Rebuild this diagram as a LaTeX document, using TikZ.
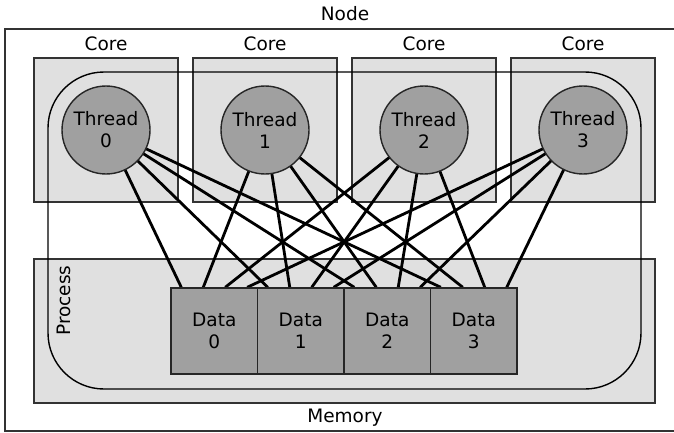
\documentclass[tikz,border=0pt]{standalone}
\usepackage{fontspec}
\setmainfont{DejaVu Sans}
\usetikzlibrary{calc}
\pgfdeclarelayer{boxes}
\pgfdeclarelayer{links}
\pgfsetlayers{boxes,links,main}
\definecolor{boxfill}{HTML}{E0E0E0}
\definecolor{unitfill}{HTML}{A0A0A0}
\definecolor{framegray}{HTML}{333333}
\begin{document}
\begin{tikzpicture}[x=1pt, y=-1pt,
  font=\fontsize{18.5}{22}\selectfont,
  frame/.style={draw=framegray, line width=1.4pt},
  corebox/.style={frame, fill=boxfill, minimum width=144pt, minimum height=144pt, inner sep=0pt},
  membox/.style={frame, fill=boxfill, minimum width=621pt, minimum height=144pt, inner sep=0pt},
  procbox/.style={draw=black, line width=1.4pt, rounded corners=56pt, minimum width=593pt, minimum height=317pt, inner sep=0pt},
  thread/.style={circle, draw=black!85, line width=1.4pt, fill=unitfill, minimum size=88pt, inner sep=0pt, align=center},
  datum/.style={draw=black!85, line width=1.4pt, fill=unitfill, minimum width=86.5pt, minimum height=86pt, inner sep=0pt, align=center},
  link/.style={line width=2.8pt, black},
  caption/.style={anchor=base, inner sep=0pt}]
\useasboundingbox (0,0) rectangle (674,433);

% containers: node frame, cores, memory and the process outline
\begin{pgfonlayer}{boxes}
  \draw[frame] (674,29) -- (5,29) -- (5,431) -- (674,431);
  \foreach \i in {0,...,3}
    \node[corebox] (core\i) at ({106+159*\i},130) {};
  \node[membox] (memory) at (344.5,331) {};
  \node[procbox] (process) at (344.5,230.5) {};
\end{pgfonlayer}

% threads and data blocks
\foreach \i in {0,...,3}
  \node[thread] (t\i) at ({106+159*\i},130) {Thread\\\i};
\foreach \j in {0,...,3}
  \node[datum] (d\j) at ({214.25+86.5*\j},331) {Data\\\j};

% every thread reaches every data block
\begin{pgfonlayer}{links}
  \foreach \j in {0,...,3}
    \foreach \i in {0,...,3} {
      \coordinate (d\j-\i) at ($(d\j.north west)!{(\i+0.5)/4}!(d\j.north east)$);
      \draw[link] (t\i.center) -- (d\j-\i);
    }
\end{pgfonlayer}

% captions
\node[caption] (nodecap) at (345,20.7) {Node};
\foreach \i in {0,...,3}
  \node[caption] (corecap\i) at ({106+159*\i},51) {Core};
\node[caption] (memcap) at (345,422.7) {Memory};
\node[caption, rotate=90] (proccap) at (70.7,300.5) {Process};
\end{tikzpicture}
\end{document}
